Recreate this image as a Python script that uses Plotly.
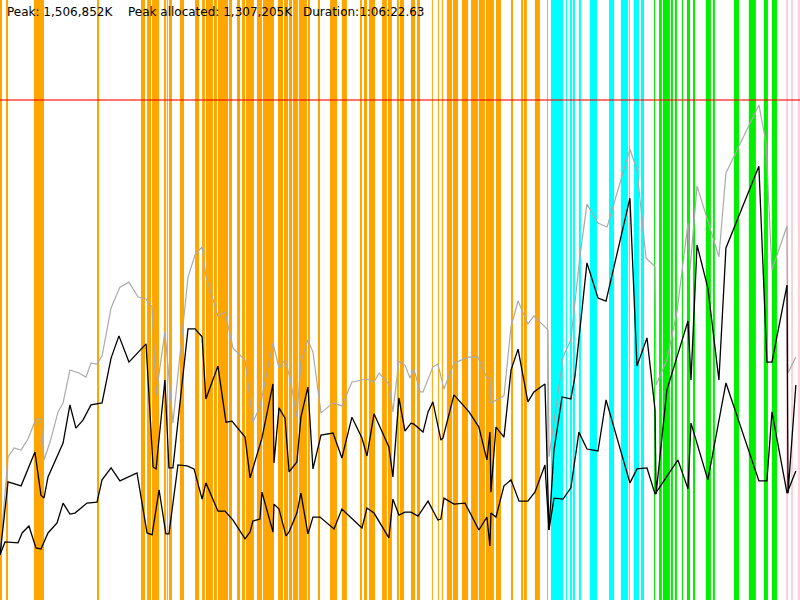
import plotly.graph_objects as go

# run summary
peak_k = 1506852
peak_alloc_k = 1307205
duration_s = 3982.63
duration_label = "1:06:22.63"

# memory samples, time in seconds, memory in thousands of K
total_t = [0, 40, 70, 105, 139, 179, 204, 219, 249, 289,
           314, 348, 393, 428, 453, 483, 508, 553, 597, 642,
           687, 727, 757, 777, 821, 861, 936, 971, 1006, 1025,
           1085, 1120, 1160, 1220, 1259, 1294, 1359, 1389, 1419, 1444,
           1478, 1498, 1533, 1558, 1598, 1658, 1702, 1752, 1827, 1862,
           1887, 1936, 1956, 1986, 2016, 2041, 2061, 2091, 2106, 2155,
           2180, 2210, 2260, 2330, 2379, 2424, 2439, 2444, 2509, 2544,
           2579, 2628, 2658, 2728, 2733, 2803, 2842, 2887, 2922, 2977,
           3022, 3136, 3171, 3216, 3261, 3266, 3320, 3370, 3425, 3435,
           3470, 3579, 3614, 3778, 3813, 3843, 3918, 3923, 3962]
total_mem = [142, 431, 458, 452, 485, 545, 545, 422, 476, 567,
             594, 693, 684, 672, 714, 711, 735, 880, 943, 958,
             913, 907, 883, 618, 808, 533, 973, 1040, 1064, 976,
             856, 868, 759, 723, 536, 582, 775, 699, 723, 669,
             551, 717, 784, 747, 564, 594, 585, 657, 666, 657,
             684, 651, 567, 720, 708, 669, 696, 627, 627, 702,
             711, 636, 714, 732, 732, 669, 669, 594, 615, 823,
             901, 832, 856, 814, 431, 732, 784, 1034, 1193, 1136,
             1124, 1359, 1296, 1031, 1004, 648, 723, 868, 1136, 995,
             1248, 1034, 1287, 1492, 1380, 995, 1127, 684, 732]

alloc_t = [0, 40, 105, 174, 204, 219, 239, 314, 348, 378,
           413, 453, 508, 553, 592, 642, 727, 762, 777, 821,
           841, 861, 936, 971, 1006, 1025, 1085, 1125, 1155, 1220,
           1245, 1304, 1359, 1364, 1389, 1419, 1439, 1478, 1498, 1533,
           1558, 1598, 1658, 1702, 1752, 1802, 1827, 1862, 1936, 1956,
           1986, 2016, 2046, 2061, 2106, 2131, 2155, 2195, 2205, 2260,
           2335, 2384, 2424, 2439, 2444, 2469, 2509, 2544, 2579, 2628,
           2658, 2713, 2733, 2758, 2798, 2842, 2862, 2922, 2977, 3017,
           3136, 3171, 3221, 3261, 3266, 3320, 3370, 3425, 3440, 3470,
           3524, 3579, 3614, 3778, 3818, 3843, 3918, 3923, 3962]
alloc_mem = [136, 356, 344, 446, 316, 307, 371, 473, 588, 518,
             542, 588, 594, 729, 796, 717, 772, 401, 395, 663,
             398, 398, 817, 817, 793, 606, 705, 536, 539, 491,
             368, 488, 651, 413, 579, 548, 386, 416, 551, 642,
             395, 497, 503, 428, 551, 488, 434, 561, 461, 371,
             609, 509, 533, 530, 506, 567, 597, 482, 488, 618,
             567, 521, 422, 506, 325, 521, 491, 693, 756, 597,
             627, 651, 211, 452, 612, 606, 672, 1016, 910, 901,
             1211, 705, 790, 573, 319, 633, 732, 841, 663, 1070,
             940, 663, 1061, 1307, 717, 717, 949, 322, 648]

used_t = [0, 25, 90, 110, 144, 179, 204, 239, 284, 314,
          348, 373, 433, 483, 508, 553, 597, 682, 732, 757,
          792, 826, 841, 886, 931, 966, 1006, 1025, 1085, 1120,
          1160, 1220, 1245, 1259, 1294, 1304, 1359, 1364, 1389, 1424,
          1439, 1478, 1498, 1533, 1558, 1593, 1663, 1702, 1802, 1827,
          1862, 1936, 1956, 1986, 2016, 2046, 2081, 2131, 2180, 2195,
          2210, 2260, 2315, 2384, 2424, 2439, 2444, 2469, 2509, 2544,
          2584, 2628, 2663, 2713, 2733, 2758, 2803, 2842, 2882, 2922,
          2977, 3017, 3136, 3171, 3221, 3261, 3375, 3425, 3440, 3524,
          3614, 3778, 3818, 3843, 3918, 3962]
used_mem = [136, 175, 172, 202, 223, 157, 154, 202, 232, 292,
            259, 262, 292, 295, 362, 398, 359, 383, 202, 196,
            332, 199, 199, 407, 404, 395, 304, 353, 268, 268,
            241, 184, 205, 238, 244, 325, 205, 289, 274, 193,
            205, 262, 322, 199, 250, 250, 214, 274, 217, 277,
            262, 187, 304, 256, 265, 265, 253, 298, 241, 244,
            307, 289, 292, 211, 250, 163, 262, 250, 344, 362,
            298, 298, 325, 407, 211, 307, 304, 338, 506, 455,
            449, 603, 353, 395, 398, 319, 422, 335, 533, 362,
            654, 359, 359, 567, 322, 389]

# activity intervals (start s, end s)
orange_events = [(0, 10), (30, 40), (169, 219), (483, 493), (702, 722), (732, 752),
                 (757, 792), (816, 826), (831, 836), (841, 856), (896, 916), (971, 991),
                 (1006, 1020), (1025, 1060), (1065, 1080), (1085, 1135), (1140, 1155),
                 (1180, 1195), (1205, 1220), (1225, 1264), (1279, 1304), (1309, 1364),
                 (1384, 1409), (1414, 1434), (1439, 1454), (1459, 1483), (1488, 1528),
                 (1533, 1543), (1583, 1593), (1643, 1678), (1702, 1727), (1792, 1802),
                 (1812, 1827), (1837, 1867), (1902, 1926), (1931, 1951), (1976, 1986),
                 (1991, 2011), (2046, 2066), (2076, 2091), (2150, 2155), (2180, 2185),
                 (2200, 2205), (2225, 2250), (2255, 2280), (2300, 2330), (2345, 2379),
                 (2384, 2414), (2419, 2459), (2469, 2494), (2544, 2554), (2594, 2604),
                 (2608, 2623), (2663, 2688)]
cyan_events = [(2723, 2728), (2743, 2803), (2818, 2823), (2837, 2847), (2852, 2862),
               (2882, 2892), (2937, 2972), (3032, 3057), (3091, 3126), (3131, 3136),
               (3156, 3181), (3191, 3206)]
green_events = [(3256, 3261), (3281, 3295), (3300, 3335), (3340, 3350), (3360, 3370),
                (3395, 3400), (3420, 3435), (3450, 3460), (3514, 3539), (3549, 3559),
                (3654, 3679), (3728, 3763), (3803, 3823), (3843, 3868)]
pink_events = [(3913, 3923), (3938, 3948), (3972, 3983)]

fig = go.Figure()

for events, colour in [(orange_events, "#FFA500"), (cyan_events, "#00FFFF"),
                       (green_events, "#00F000"), (pink_events, "#FFD0D8")]:
    for start, end in events:
        fig.add_vrect(x0=start, x1=end, fillcolor=colour, opacity=1,
                      line_width=0, layer="below")

fig.add_trace(go.Scatter(x=total_t, y=total_mem, mode="lines",
                         line=dict(color="#AAAAAA", width=1.2)))
fig.add_trace(go.Scatter(x=alloc_t, y=alloc_mem, mode="lines",
                         line=dict(color="black", width=1.3)))
fig.add_trace(go.Scatter(x=used_t, y=used_mem, mode="lines",
                         line=dict(color="black", width=1.3)))

fig.add_hline(y=peak_k / 1000, line=dict(color="rgba(255,0,0,0.55)", width=2),
              layer="above")

font = dict(family="DejaVu Sans", size=12, color="black")
labels = [(5, f"Peak: {peak_k:,}K"),
          (126, f"Peak allocated: {peak_alloc_k:,}K"),
          (301, f"Duration:{duration_label}")]
for px, text in labels:
    fig.add_annotation(x=px / 800, y=1 - 12 / 600, xref="paper", yref="paper",
                       text=text, showarrow=False, xanchor="left", yanchor="middle",
                       font=font)

fig.update_layout(
    width=800, height=600,
    margin=dict(l=0, r=0, t=0, b=0),
    paper_bgcolor="white", plot_bgcolor="white",
    showlegend=False,
    xaxis=dict(range=[0, duration_s], visible=False),
    yaxis=dict(range=[0, peak_k / 1000 * 1.2], visible=False),
)

# the page margin would push the 800x600 figure off the window edge
fig.write_html("out.html", config={"displayModeBar": False},
               post_script="document.body.style.margin = '0';")
